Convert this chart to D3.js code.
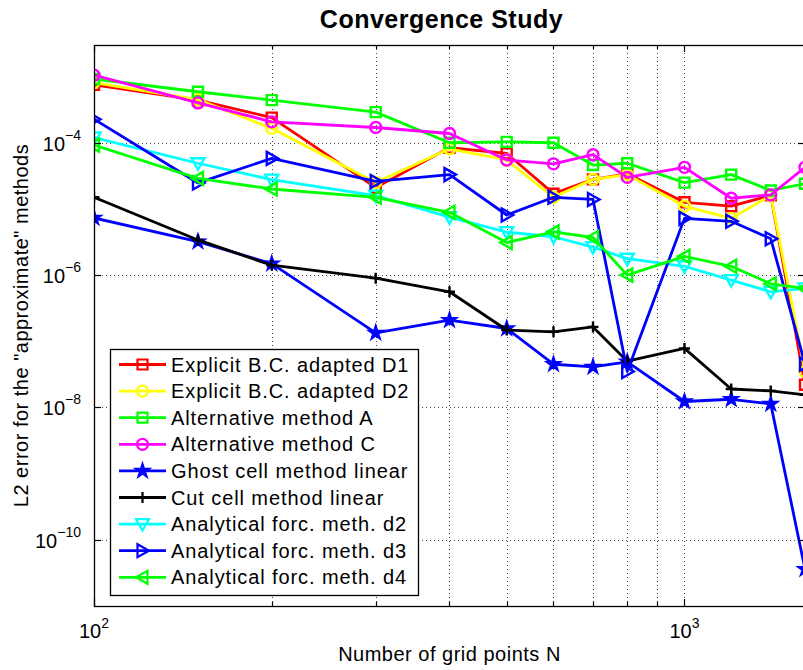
<!DOCTYPE html>
<html>
<head>
<meta charset="utf-8">
<script src="https://cdn.jsdelivr.net/npm/d3@7"></script>
<style>
    body { margin: 0; background: #fff; }
    text { font-family: "Liberation Sans", Arial, Helvetica, sans-serif; }
</style>
</head>
<body>
<div id="chart"></div>
<script>
// grid sizes N
const N = [100, 150, 200, 300, 400, 500, 600, 700, 800, 1000, 1200, 1400, 1600];

// L2 errors
const explicitD1 = [7.5e-4, 4.4e-4, 2.4e-4, 2.1e-5, 8.4e-5, 6.9e-5, 1.7e-5, 2.8e-5, 3.4e-5, 1.26e-5, 1.1e-5, 1.6e-5, 2.2e-8];
const explicitD2 = [8.1e-4, 4.5e-4, 1.65e-4, 2.5e-5, 8.1e-5, 5.5e-5, 1.5e-5, 2.8e-5, 3.3e-5, 1.1e-5, 7.2e-6, 1.6e-5, 3.5e-8];
const altA = [9.2e-4, 5.9e-4, 4.4e-4, 2.9e-4, 1.0e-4, 1.03e-4, 1.0e-4, 4.6e-5, 4.9e-5, 2.5e-5, 3.3e-5, 1.9e-5, 2.4e-5];
const altC = [1.05e-3, 4.0e-4, 2.07e-4, 1.7e-4, 1.38e-4, 5.5e-5, 4.8e-5, 6.6e-5, 3.0e-5, 4.25e-5, 1.45e-5, 1.63e-5, 4.25e-5];
const ghostLinear = [7.3e-6, 3.2e-6, 1.49e-6, 1.34e-7, 2.09e-7, 1.56e-7, 4.5e-8, 4.1e-8, 4.9e-8, 1.23e-8, 1.33e-8, 1.13e-8, 3.6e-11];
const cutLinear = [1.5e-5, 3.4e-6, 1.41e-6, 9.0e-7, 5.6e-7, 1.48e-7, 1.39e-7, 1.65e-7, 5.0e-8, 7.8e-8, 1.9e-8, 1.78e-8, 1.55e-8];
const analyticD2 = [1.2e-4, 4.9e-5, 2.77e-5, 1.59e-5, 7.5e-6, 4.46e-6, 3.8e-6, 2.65e-6, 1.77e-6, 1.36e-6, 8.4e-7, 5.6e-7, 6.3e-7];
const analyticD3 = [2.27e-4, 2.47e-5, 5.8e-5, 2.6e-5, 3.3e-5, 8.1e-6, 1.5e-5, 1.39e-5, 3.5e-8, 7.2e-6, 6.5e-6, 3.55e-6, 4.5e-8];
const analyticD4 = [9.2e-5, 2.9e-5, 2.0e-5, 1.5e-5, 8.9e-6, 3.1e-6, 4.5e-6, 3.7e-6, 1.0e-6, 1.92e-6, 1.36e-6, 7.4e-7, 6.3e-7];

const seriesNames = [
    "Explicit B.C. adapted D1",
    "Explicit B.C. adapted D2",
    "Alternative method A",
    "Alternative method C",
    "Ghost cell method linear",
    "Cut cell method linear",
    "Analytical forc. meth. d2",
    "Analytical forc. meth. d3",
    "Analytical forc. meth. d4"
];
const seriesValues = [explicitD1, explicitD2, altA, altC, ghostLinear, cutLinear, analyticD2, analyticD3, analyticD4];
const seriesColors = ["#ff0000", "#ffff00", "#00ff00", "#ff00ff", "#0000ff", "#000000", "#00ffff", "#0000ff", "#00ff00"];
const seriesMarkers = ["square", "circle", "square", "circle", "star", "plus", "down", "right", "left"];

const xMajor = [100, 1000];
const xMinor = [200, 300, 400, 500, 600, 700, 800, 900];
const yTicks = [1e-4, 1e-6, 1e-8, 1e-10];

const width = 803;
const height = 670;
// the axes box runs a little past the right edge of the picture
const plot = { left: 94, right: 805, top: 45, bottom: 606 };

const svg = d3.select("#chart").append("svg")
    .attr("width", width)
    .attr("height", height);

const x = d3.scaleLog().domain([100, 1600]).range([plot.left, plot.right]);
const y = d3.scaleLog().domain([1e-11, 3e-3]).range([plot.bottom, plot.top]);

// dotted grid
const grid = svg.append("g")
    .attr("stroke", "#444")
    .attr("stroke-width", 1)
    .attr("stroke-dasharray", "1,3");

grid.selectAll("line.gx")
    .data(xMinor.concat([1000]))
    .join("line")
    .attr("class", "gx")
    .attr("x1", (d) => Math.round(x(d)) + 0.5)
    .attr("x2", (d) => Math.round(x(d)) + 0.5)
    .attr("y1", plot.top)
    .attr("y2", plot.bottom);

grid.selectAll("line.gy")
    .data(yTicks)
    .join("line")
    .attr("class", "gy")
    .attr("x1", plot.left)
    .attr("x2", plot.right)
    .attr("y1", (d) => Math.round(y(d)) + 0.5)
    .attr("y2", (d) => Math.round(y(d)) + 0.5);

// marker shapes
const markerPath = (type) => {
    switch (type) {
        case "square": return d3.symbol(d3.symbolSquare, 100)();
        case "circle": return d3.symbol(d3.symbolCircle, 95)();
        case "star": return d3.symbol(d3.symbolStar, 70)();
        case "plus": return "M-5.5,0H5.5M0,-5.5V5.5";
        case "down": return "M-6.5,-5L6.5,-5L0,6.5Z";
        case "right": return "M-5,-6.5L-5,6.5L6.5,0Z";
        case "left": return "M5,-6.5L5,6.5L-6.5,0Z";
    }
};

const line = d3.line()
    .x((d) => x(d.n))
    .y((d) => y(d.v));

svg.append("clipPath").attr("id", "clip")
    .append("rect")
    .attr("x", plot.left)
    .attr("y", plot.top)
    .attr("width", plot.right - plot.left)
    .attr("height", plot.bottom - plot.top);

const plotArea = svg.append("g").attr("clip-path", "url(#clip)");

seriesValues.forEach((vals, i) => {
    const data = vals.map((v, j) => ({ n: N[j], v: v }));
    const g = plotArea.append("g");
    g.append("path")
        .datum(data)
        .attr("d", line)
        .attr("fill", "none")
        .attr("stroke", seriesColors[i])
        .attr("stroke-width", 2.8)
        .attr("stroke-linejoin", "round");

    g.selectAll("path.mk")
        .data(data)
        .join("path")
        .attr("class", "mk")
        .attr("transform", (d) => `translate(${x(d.n)},${y(d.v)})`)
        .attr("d", markerPath(seriesMarkers[i]))
        .attr("fill", seriesMarkers[i] === "star" ? seriesColors[i] : "none")
        .attr("stroke", seriesColors[i])
        .attr("stroke-width", seriesMarkers[i] === "star" ? 1.5 : 2.4);
});

// axes box
svg.append("rect")
    .attr("x", plot.left + 0.5)
    .attr("y", plot.top + 0.5)
    .attr("width", plot.right - plot.left)
    .attr("height", plot.bottom - plot.top)
    .attr("fill", "none")
    .attr("stroke", "#000")
    .attr("stroke-width", 1.3);

// inward ticks on all four sides
const ticks = svg.append("g").attr("stroke", "#000").attr("stroke-width", 1.2);
const xTickData = xMajor.map((d) => ({ v: d, len: 7 })).concat(xMinor.map((d) => ({ v: d, len: 4 })));
xTickData.forEach((t) => {
    const px = Math.round(x(t.v)) + 0.5;
    ticks.append("line").attr("x1", px).attr("x2", px).attr("y1", plot.bottom).attr("y2", plot.bottom - t.len);
    ticks.append("line").attr("x1", px).attr("x2", px).attr("y1", plot.top).attr("y2", plot.top + t.len);
});
yTicks.forEach((v) => {
    const py = Math.round(y(v)) + 0.5;
    ticks.append("line").attr("x1", plot.left).attr("x2", plot.left + 7).attr("y1", py).attr("y2", py);
    ticks.append("line").attr("x1", plot.right).attr("x2", plot.right - 7).attr("y1", py).attr("y2", py);
});

// tick labels 10^k
const expOf = (v) => Math.round(Math.log10(v));
const fmtExp = (k) => (k < 0 ? "\u2212" + (-k) : String(k));

xMajor.forEach((v) => {
    const t = svg.append("text")
        .attr("x", x(v))
        .attr("y", 638)
        .attr("text-anchor", "middle")
        .attr("font-size", 20);
    t.append("tspan").text("10");
    t.append("tspan").attr("dy", -10).attr("font-size", 14).text(fmtExp(expOf(v)));
});

yTicks.forEach((v) => {
    const t = svg.append("text")
        .attr("x", 81)
        .attr("y", y(v) + 8)
        .attr("text-anchor", "end")
        .attr("font-size", 20);
    t.append("tspan").text("10");
    t.append("tspan").attr("dy", -11).attr("font-size", 14).text(fmtExp(expOf(v)));
});

// title and axis labels
svg.append("text")
    .attr("x", (plot.left + plot.right) / 2 - 8)
    .attr("y", 28)
    .attr("text-anchor", "middle")
    .attr("font-size", 25)
    .attr("font-weight", "bold")
    .attr("letter-spacing", 0.5)
    .text("Convergence Study");

svg.append("text")
    .attr("x", (plot.left + plot.right) / 2)
    .attr("y", 661)
    .attr("text-anchor", "middle")
    .attr("font-size", 20)
    .attr("letter-spacing", 0.5)
    .text("Number of grid points N");

svg.append("text")
    .attr("transform", `translate(28,${(plot.top + plot.bottom) / 2}) rotate(-90)`)
    .attr("text-anchor", "middle")
    .attr("font-size", 20)
    .attr("letter-spacing", 0.5)
    .text("L2 error for the \"approximate\" methods");

// legend
const legend = svg.append("g").attr("class", "legend");
legend.append("rect")
    .attr("x", 110.5)
    .attr("y", 349.5)
    .attr("width", 308)
    .attr("height", 246)
    .attr("fill", "#fff")
    .attr("stroke", "#000")
    .attr("stroke-width", 1.3);

seriesNames.forEach((name, i) => {
    const ly = 364.5 + i * 26.6;
    const item = legend.append("g");
    item.append("line")
        .attr("x1", 119).attr("x2", 166)
        .attr("y1", ly).attr("y2", ly)
        .attr("stroke", seriesColors[i])
        .attr("stroke-width", 2.8);
    item.append("path")
        .attr("transform", `translate(142.5,${ly})`)
        .attr("d", markerPath(seriesMarkers[i]))
        .attr("fill", seriesMarkers[i] === "star" ? seriesColors[i] : "none")
        .attr("stroke", seriesColors[i])
        .attr("stroke-width", seriesMarkers[i] === "star" ? 1.5 : 2.2);
    item.append("text")
        .attr("x", 171)
        .attr("y", ly + 7)
        .attr("font-size", 20)
        .attr("letter-spacing", 0.9)
        .text(name);
});
</script>
</body>
</html>
